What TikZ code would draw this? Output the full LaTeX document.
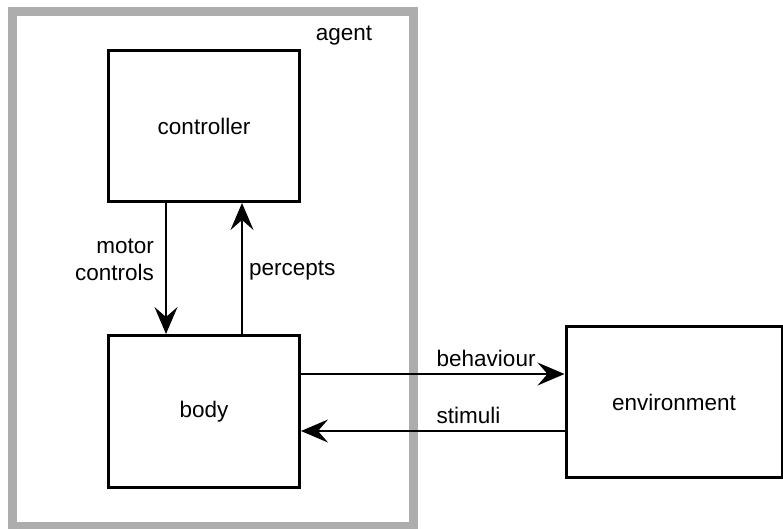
\documentclass[tikz,border=0pt]{standalone}
\usepackage{fontspec}
\setmainfont{Liberation Sans}
\usetikzlibrary{arrows.meta}
\definecolor{framegray}{HTML}{ADADAD}
\tikzset{
  block/.style={draw=black, line width=3pt, minimum width=191pt, inner sep=0pt},
  flow/.style={line width=1.6pt, -{Stealth[length=27pt, width=23pt, inset=10pt]}},
  lbl/.style={inner sep=0pt}
}
\begin{document}
\begin{tikzpicture}[x=1pt, y=-1pt, font=\fontsize{22.5}{26}\selectfont]
\useasboundingbox (0,0) rectangle (783,528);
\begin{scope}
\clip (0,0) rectangle (783,528);
% agent frame
\draw[framegray, line width=9pt] (12.5,11.5) rectangle (413,526);
\node[lbl, anchor=base] (agentlbl) at (344,40) {agent};
% blocks
\node[block, minimum height=151pt] (ctrl) at (204,126) {controller};
\node[block, minimum height=152pt] (body) at (204,411.5) {body};
\node[block, minimum width=216pt, minimum height=151pt] (env) at (674,402) {environment};
\end{scope}
% internal arrows
\draw[flow] (ctrl.south -| 166,0) coordinate (mc1) -- (body.north -| 166,0) coordinate (mc2);
\draw[flow] (body.north -| 242,0) coordinate (pc1) -- (ctrl.south -| 242,0) coordinate (pc2);
\node[lbl, anchor=base east] (mclbl) at (154,253) {motor};
\node[lbl, anchor=base east] (mclbl2) at (154,280) {controls};
\node[lbl, anchor=base west] (pclbl) at (249,275) {percepts};
% arrows to and from the environment
\draw[flow] (body.east |- 0,374) -- (env.west |- 0,374);
\draw[flow] (env.west |- 0,431) -- (body.east |- 0,431);
\node[lbl, anchor=base west] (behlbl) at (436.5,366.5) {behaviour};
\node[lbl, anchor=base west] (stimlbl) at (436.5,423) {stimuli};
\end{tikzpicture}
\end{document}
